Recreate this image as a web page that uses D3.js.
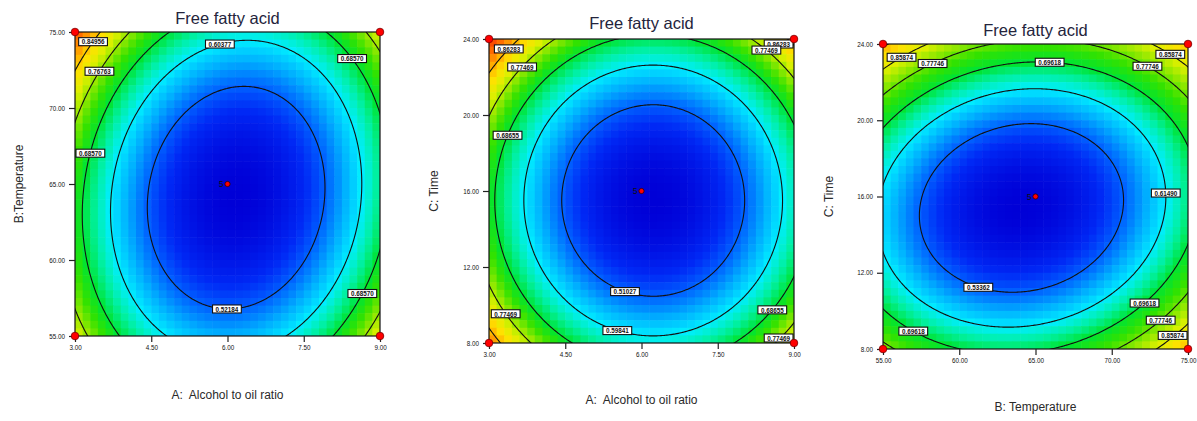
<!DOCTYPE html>
<html><head><meta charset="utf-8">
<script src="https://cdn.jsdelivr.net/npm/d3@7"></script>
<style>
body{margin:0;background:#fff;}
svg{display:block;font-family:"Liberation Sans",Arial,sans-serif;}
.pre{white-space:pre;}
</style>
</head><body>
<svg id="c" width="1197" height="421"></svg>
<script>
// ---------------- DATA ----------------
const titles = ["Free fatty acid", "Free fatty acid", "Free fatty acid"];
const xLabels = ["A:  Alcohol to oil ratio", "A:  Alcohol to oil ratio", "B: Temperature"];
const yLabels = ["B:Temperature", "C: Time", "C: Time"];

// factor ranges [low, high]
const rangeA = [3, 9];      // Alcohol to oil ratio
const rangeB = [55, 75];    // Temperature
const rangeC = [8, 24];     // Time

const ticksA = [3.00, 4.50, 6.00, 7.50, 9.00];
const ticksB = [55.00, 60.00, 65.00, 70.00, 75.00];
const ticksC = [8.00, 12.00, 16.00, 20.00, 24.00];

// fitted quadratic surface per slice: location of the minimum (actual units)
const optimum1 = [6.17, 64.1];   // A, B
const optimum2 = [6.23, 15.5];   // A, C
const optimum3 = [64.08, 15.4];  // B, C
// curvature in coded units [xx, yy, xy] (in units of the contour step)
const curvature1 = [2.97, 1.88, -0.42];
const curvature2 = [2.78, 2.52, 0.0];
const curvature3 = [2.25, 3.30, -0.50];

// contour levels (steps above the minimum) and their printed FFA values
const levels = [1, 2, 3, 4, 5, 6];
const levelLabels1 = ["0.52184", "0.60377", "0.68570", "0.76763", "0.84956", "0.93149"];
const levelLabels2 = ["0.51027", "0.59841", "0.68655", "0.77469", "0.86283", "0.95097"];
const levelLabels3 = ["0.53362", "0.61490", "0.69618", "0.77746", "0.85874", "0.94002"];

// contour label anchors [x, y, level] in factor units
const labelAnchors1 = [[3.31, 74.47, 5], [3.44, 72.5, 4], [5.81, 74.67, 2], [8.47, 73.3, 3],
                       [3.33, 67.0, 3], [5.99, 57.0, 1], [8.65, 57.8, 3]];
const labelAnchors2 = [[3.33, 23.63, 5], [3.59, 22.68, 4], [8.65, 23.42, 5], [8.23, 22.68, 4],
                       [3.35, 18.95, 3], [5.70, 10.9, 1], [3.35, 9.58, 4], [5.54, 8.79, 2],
                       [8.53, 9.84, 3], [8.67, 8.42, 4]];
const labelAnchors3 = [[55.98, 23.63, 5], [58.08, 23.27, 4], [65.95, 23.37, 3], [74.02, 23.69, 5],
                       [72.5, 23.06, 4], [73.49, 16.18, 2], [61.36, 11.51, 1], [71.92, 10.62, 3],
                       [73.03, 9.68, 4], [73.95, 8.89, 5], [57.1, 9.1, 3]];

// design points shown on each slice
const centerReplicates = 5;

// colour map along the response (contour steps)
const colorStops = [0, 0.6, 1.0, 1.5, 2.0, 2.5, 3.0, 3.5, 4.0, 4.5, 5.0, 5.5, 6.0, 6.5, 7.0];
const colorValues = ["rgb(0,0,215)", "rgb(0,40,245)", "rgb(0,95,255)", "rgb(0,175,255)",
  "rgb(0,238,255)", "rgb(0,240,160)", "rgb(0,228,50)", "rgb(50,226,0)", "rgb(140,232,0)",
  "rgb(220,240,0)", "rgb(255,225,0)", "rgb(255,170,0)", "rgb(255,110,0)", "rgb(250,60,0)",
  "rgb(230,20,0)"];
// colour stretch of the upper part of each slice's range
const colorUpperScale = [1.1, 1.2, 0.8];

// ---------------- DRAW ----------------
const svg = d3.select("#c");
const color = d3.scaleLinear().domain(colorStops).range(colorValues).clamp(true);
const fmt = d3.format(".2f");

const panels = [
  { box: [75, 32, 380, 336], xr: rangeA, yr: rangeB, xt: ticksA, yt: ticksB,
    opt: optimum1, cur: curvature1, labs: levelLabels1, anchors: labelAnchors1,
    title: titles[0], xl: xLabels[0], yl: yLabels[0], titleY: 24, xlY: 399, ylX: 23 },
  { box: [489, 39, 794, 343], xr: rangeA, yr: rangeC, xt: ticksA, yt: ticksC,
    opt: optimum2, cur: curvature2, labs: levelLabels2, anchors: labelAnchors2,
    title: titles[1], xl: xLabels[1], yl: yLabels[1], titleY: 29, xlY: 404, ylX: 438 },
  { box: [883, 44, 1188, 349], xr: rangeB, yr: rangeC, xt: ticksB, yt: ticksC,
    opt: optimum3, cur: curvature3, labs: levelLabels3, anchors: labelAnchors3,
    title: titles[2], xl: xLabels[2], yl: yLabels[2], titleY: 36, xlY: 411, ylX: 833 }
];

panels.forEach((p, pi) => {
  const [x0, y0, x1, y1] = p.box;
  const W = x1 - x0, H = y1 - y0;
  const x = d3.scaleLinear().domain(p.xr).range([x0, x1]);
  const y = d3.scaleLinear().domain(p.yr).range([y1, y0]);
  const xHalf = (p.xr[1] - p.xr[0]) / 2, yHalf = (p.yr[1] - p.yr[0]) / 2;
  const [a, b, c] = p.cur;
  const g = (xv, yv) => {
    const du = (xv - p.opt[0]) / xHalf, dv = (yv - p.opt[1]) / yHalf;
    return a * du * du + b * dv * dv + c * du * dv;
  };
  const k = colorUpperScale[pi];
  const colorOf = v => color(v <= 3 ? v : 3 + (v - 3) * k);

  const clipId = "clip" + pi;
  svg.append("clipPath").attr("id", clipId)
    .append("rect").attr("x", x0).attr("y", y0).attr("width", W).attr("height", H);

  const gp = svg.append("g");
  const plot = gp.append("g").attr("clip-path", `url(#${clipId})`);

  // pixelated heat map
  const N = 40;
  const cw = W / N, ch = H / N;
  const cells = d3.range(N * N).map(q => ({ i: q % N, j: Math.floor(q / N) }));
  plot.append("g").selectAll("rect").data(cells).join("rect")
    .attr("x", d => x0 + d.i * cw)
    .attr("y", d => y0 + d.j * ch)
    .attr("width", cw + 0.6).attr("height", ch + 0.6)
    .attr("fill", d => colorOf(g(x.invert(x0 + (d.i + 0.5) * cw), y.invert(y0 + (d.j + 0.5) * ch))));

  // contour lines on a fine grid extending slightly past the frame
  const M = 220, pad = 6;
  const gx0 = x0 - pad, gy0 = y0 - pad, gW = W + 2 * pad, gH = H + 2 * pad;
  const vals = new Array(M * M);
  for (let j = 0; j < M; j++) for (let i = 0; i < M; i++) {
    vals[j * M + i] = g(x.invert(gx0 + (i + 0.5) * gW / M), y.invert(gy0 + (j + 0.5) * gH / M));
  }
  const contours = d3.contours().size([M, M]).thresholds(levels)(vals);
  const proj = d3.geoTransform({
    point: function (px, py) { this.stream.point(gx0 + px * gW / M, gy0 + py * gH / M); }
  });
  plot.append("g").selectAll("path").data(contours).join("path")
    .attr("d", d3.geoPath(proj))
    .attr("fill", "none").attr("stroke", "#111").attr("stroke-width", 1.1);

  // frame
  gp.append("rect").attr("x", x0).attr("y", y0).attr("width", W).attr("height", H)
    .attr("fill", "none").attr("stroke", "#111").attr("stroke-width", 1.2);

  // axes
  const ax = gp.append("g").attr("transform", `translate(0,${y1})`)
    .call(d3.axisBottom(x).tickValues(p.xt).tickSize(6).tickPadding(4).tickFormat(fmt));
  const ay = gp.append("g").attr("transform", `translate(${x0},0)`)
    .call(d3.axisLeft(y).tickValues(p.yt).tickSize(6).tickPadding(4).tickFormat(fmt));
  [ax, ay].forEach(s => {
    s.select(".domain").remove();
    s.selectAll("line").attr("stroke", "#222").attr("stroke-width", 1.2);
    s.selectAll("text").attr("font-size", 6.3).attr("fill", "#111")
      .attr("font-family", "'Liberation Sans',Arial,sans-serif");
  });

  // contour labels (snapped onto their contour)
  const lblG = gp.append("g");
  p.anchors.forEach(([lx, ly, L]) => {
    let du = (lx - p.opt[0]) / xHalf, dv = (ly - p.opt[1]) / yHalf;
    for (let it = 0; it < 30; it++) {
      const f = a * du * du + b * dv * dv + c * du * dv - L;
      const gxv = 2 * a * du + c * dv, gyv = 2 * b * dv + c * du;
      const n2 = gxv * gxv + gyv * gyv;
      if (n2 < 1e-9) break;
      du -= f * gxv / n2; dv -= f * gyv / n2;
    }
    let px = x(p.opt[0] + du * xHalf), py = y(p.opt[1] + dv * yHalf);
    const txt = p.labs[levels.indexOf(L)];
    const lg = lblG.append("g");
    const t = lg.append("text").text(txt).attr("font-size", 6.3).attr("font-weight", "bold")
      .attr("fill", "#111").attr("text-anchor", "middle").attr("dominant-baseline", "central");
    const tw = t.node().getComputedTextLength();
    const bw = tw + 6, bh = 8;
    px = Math.max(x0 + bw / 2 + 1, Math.min(x1 - bw / 2 - 1, px));
    py = Math.max(y0 + bh / 2 + 1, Math.min(y1 - bh / 2 - 1, py));
    t.attr("x", px).attr("y", py + 0.3);
    lg.insert("rect", "text").attr("x", px - bw / 2).attr("y", py - bh / 2)
      .attr("width", bw).attr("height", bh).attr("fill", "#fff")
      .attr("stroke", "#111").attr("stroke-width", 1.1);
  });

  // design points: factorial corners and center replicates
  const corners = [[p.xr[0], p.yr[0]], [p.xr[1], p.yr[0]], [p.xr[0], p.yr[1]], [p.xr[1], p.yr[1]]];
  gp.append("g").selectAll("circle").data(corners).join("circle")
    .attr("cx", d => x(d[0])).attr("cy", d => y(d[1])).attr("r", 3.8)
    .attr("fill", "#f00").attr("stroke", "#7a0000").attr("stroke-width", 0.8);
  const cx = x((p.xr[0] + p.xr[1]) / 2), cy = y((p.yr[0] + p.yr[1]) / 2);
  gp.append("circle").attr("cx", cx).attr("cy", cy).attr("r", 2.6)
    .attr("fill", "#f00").attr("stroke", "#300").attr("stroke-width", 0.8);
  gp.append("text").attr("x", cx - 4).attr("y", cy).attr("text-anchor", "end")
    .attr("dominant-baseline", "central").attr("font-size", 8.5).attr("fill", "#111")
    .text(centerReplicates);

  // titles
  gp.append("text").attr("x", (x0 + x1) / 2).attr("y", p.titleY).attr("text-anchor", "middle")
    .attr("font-size", 16.5).attr("fill", "#24243c").text(p.title);
  gp.append("text").attr("class", "pre").attr("xml:space", "preserve")
    .attr("x", (x0 + x1) / 2).attr("y", p.xlY).attr("text-anchor", "middle")
    .attr("font-size", 12).attr("fill", "#2a2a2a").text(p.xl);
  gp.append("text").attr("class", "pre")
    .attr("transform", `translate(${p.ylX},${(y0 + y1) / 2}) rotate(-90)`)
    .attr("text-anchor", "middle").attr("font-size", 12).attr("fill", "#2a2a2a").text(p.yl);
});
</script>
</body></html>
